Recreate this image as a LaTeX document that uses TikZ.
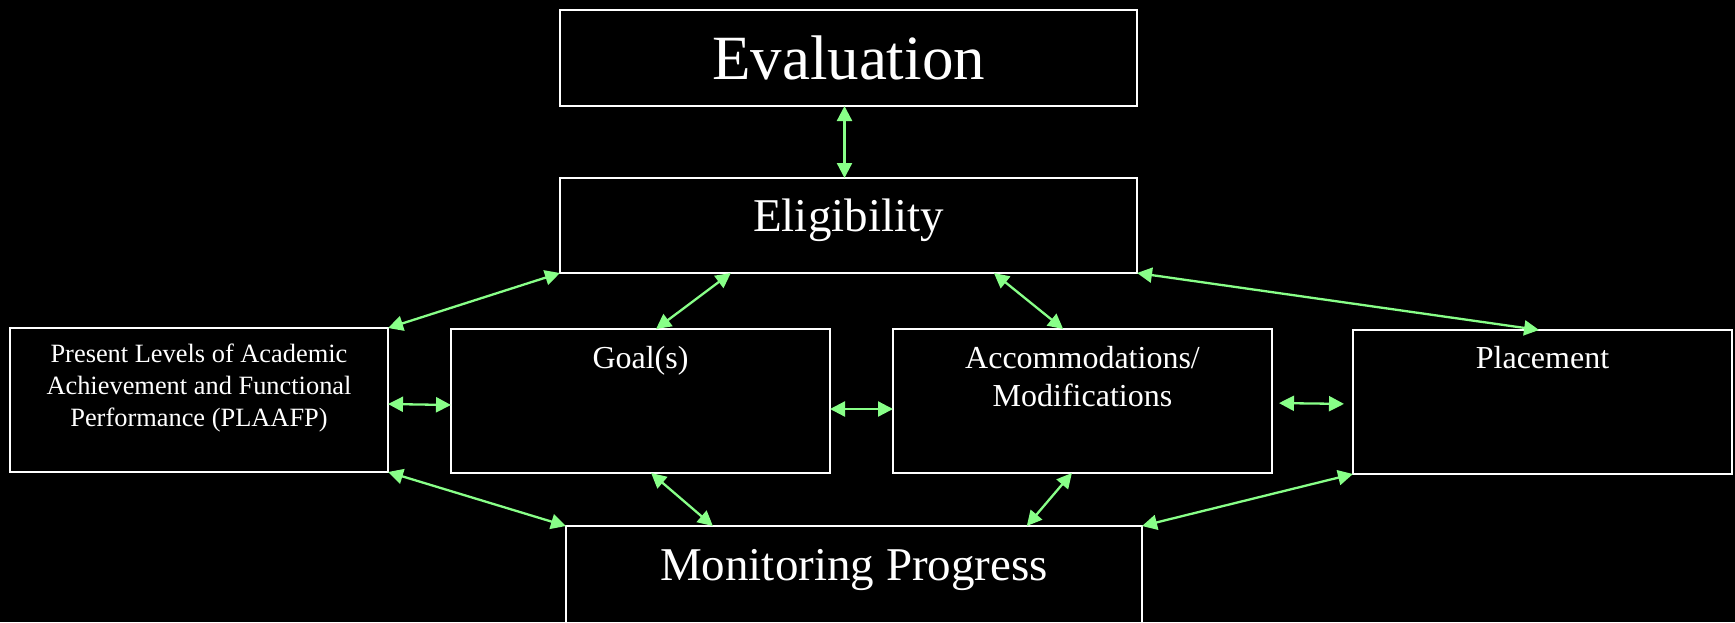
\documentclass[tikz,border=0pt]{standalone}
\usepackage{fontspec}
\setmainfont{Liberation Serif}
\usetikzlibrary{arrows.meta,calc}
\definecolor{arrowgreen}{RGB}{136,255,136}
\begin{document}
\begin{tikzpicture}[x=1pt,y=-1pt,
  box/.style={draw=white,line width=2.3pt,inner sep=0pt,outer sep=0pt,text=white,anchor=north west},
  link/.style={draw=arrowgreen,line width=2.3pt,>={Triangle[length=15pt,width=15pt]},<->}]
\useasboundingbox (0,0) rectangle (1735,622);
\fill[black] (0,0) rectangle (1735,622);

\node[box] (eval) at (560,10) {\parbox[c][96pt][t]{577pt}{\centering\fontsize{63}{70}\selectfont\rule{0pt}{69pt}Evaluation}};
\node[box] (elig) at (560,178) {\parbox[c][95pt][t]{577pt}{\centering\fontsize{47}{56}\selectfont\rule{0pt}{53pt}Eligibility}};
\node[box] (plaafp) at (10,328) {\parbox[c][144pt][t]{378pt}{\centering\fontsize{26.4}{32}\selectfont\rule{0pt}{34pt}Present Levels of Academic\\Achievement and Functional\\Performance (PLAAFP)}};
\node[box] (goal) at (451,329) {\parbox[c][144pt][t]{379pt}{\centering\fontsize{32}{38}\selectfont\rule{0pt}{39pt}Goal(s)}};
\node[box] (accom) at (893,329) {\parbox[c][144pt][t]{379pt}{\centering\fontsize{32}{38}\selectfont\rule{0pt}{39pt}Accommodations/\\Modifications}};
\node[box] (place) at (1353,330) {\parbox[c][144pt][t]{379pt}{\centering\fontsize{32}{38}\selectfont\rule{0pt}{38pt}Placement}};
\node[box] (mon) at (566,526) {\parbox[c][124pt][t]{576pt}{\centering\fontsize{47}{56}\selectfont\rule{0pt}{54pt}Monitoring Progress}};

\draw[link] ([xshift=-4pt]eval.south) -- ([xshift=-4pt]elig.north);
\draw[link] (elig.south west) -- (plaafp.north east);
\draw[link] ($(elig.south west)!0.296!(elig.south east)$) -- ($(goal.north west)!0.541!(goal.north east)$);
\draw[link] ($(elig.south west)!0.752!(elig.south east)$) -- ($(accom.north west)!0.449!(accom.north east)$);
\draw[link] (elig.south east) -- ($(place.north west)!0.491!(place.north east)$);
\draw[link] ([yshift=-4pt]plaafp.east) -- ([yshift=-4pt]goal.west);
\draw[link] ([yshift=-8pt]goal.east) -- ([yshift=-8pt]accom.west);
\draw[link,shorten <=7pt,shorten >=9pt] ([yshift=-2pt]accom.east) -- ([yshift=-2pt]place.west);
\draw[link] (plaafp.south east) -- (mon.north west);
\draw[link] ($(goal.south west)!0.528!(goal.south east)$) -- ($(mon.north west)!0.255!(mon.north east)$);
\draw[link] ($(accom.south west)!0.472!(accom.south east)$) -- ($(mon.north west)!0.80!(mon.north east)$);
\draw[link] (place.south west) -- (mon.north east);
\end{tikzpicture}
\end{document}
